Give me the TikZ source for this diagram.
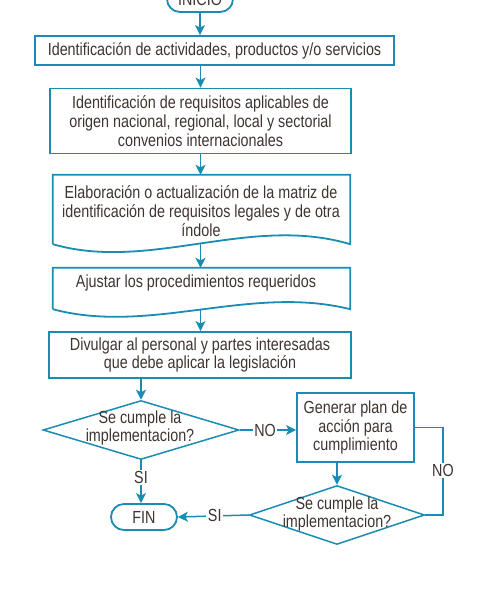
\documentclass[tikz,border=0pt]{standalone}
\usepackage{fontspec}
\setmainfont{Liberation Sans}[FakeStretch=0.82]
\usetikzlibrary{arrows.meta,shapes.geometric,calc}
\definecolor{fblue}{HTML}{1A8CB4}
\definecolor{ftext}{HTML}{3E3430}
\begin{document}
\begin{tikzpicture}[x=1pt,y=-1pt,
  every node/.style={text=ftext,font=\fontsize{17.5}{18.7}\selectfont},
  procbox/.style={draw=fblue,line width=1.8pt,align=center,inner sep=0pt},
  docbox/.style={align=center,inner sep=0pt},
  term/.style={draw=fblue,line width=1.8pt,rounded corners=13pt,minimum width=66pt,minimum height=26pt,inner sep=0pt},
  decbox/.style={draw=fblue,line width=1.5pt,shape=diamond,inner sep=0pt},
  lbl/.style={fill=white,inner sep=1.5pt},
  conn/.style={draw=fblue,line width=1.5pt},
  arr/.style={conn,-{Stealth[length=10pt,width=10pt,inset=2.5pt]}}
]
\useasboundingbox (0,0) rectangle (482,600);

\node[term] (inicio) at (200,-1) {INICIO};

\node[procbox,minimum width=359pt,minimum height=29pt] (b1) at (214.5,50.5)
  {Identificación de actividades, productos y/o servicios};

\node[procbox,minimum width=301pt,minimum height=65pt] (b2) at (200.5,121)
  {Identificación de requisitos aplicables de\\origen nacional, regional, local y sectorial\\convenios internacionales};

% document shape 3
\node[docbox,minimum width=297pt,minimum height=69pt] (b3) at (201.5,209.5) {};
\node[align=center,inner sep=0pt] (t3) at (201,211)
  {Elaboración o actualización de la matriz de\\identificación de requisitos legales y de otra\\índole};
\draw[draw=fblue,line width=1.8pt]
  (b3.south west) -- (b3.north west) -- (b3.north east) -- (b3.south east)
  .. controls ($(b3.south east)+(-100,-30)$) and ($(b3.south west)+(97,28)$) .. (b3.south west);

% document shape 4
\node[docbox,minimum width=297pt,minimum height=41pt] (b4) at (201.5,288.5) {};
\node[inner sep=0pt] (t4) at (196,283) {Ajustar los procedimientos requeridos};
\draw[draw=fblue,line width=1.8pt]
  (b4.south west) -- (b4.north west) -- (b4.north east) -- (b4.south east)
  .. controls ($(b4.south east)+(-100,-25)$) and ($(b4.south west)+(97,26)$) .. (b4.south west);

\node[procbox,minimum width=302pt,minimum height=46pt] (b5) at (200,355)
  {Divulgar al personal y partes interesadas\\que debe aplicar la legislación};

\node[decbox,minimum width=196pt,minimum height=59pt] (d1) at (141,430) {};
\node[align=center,inner sep=0pt] (t1) at (140,428) {Se cumple la\\implementacion?};

\node[procbox,minimum width=117pt,minimum height=69pt] (b6) at (355.5,427.5)
  {Generar plan de\\acción para\\cumplimiento};

\node[decbox,minimum width=175pt,minimum height=59pt] (d2) at (337,515) {};
\node[align=center,inner sep=0pt] (t2) at (337,514) {Se cumple la\\implementacion?};

\node[term] (fin) at (144,517) {FIN};

% connectors
\draw[arr] (inicio.south) -- (inicio.south |- b1.north);
\draw[arr] (b1.south -| b2.north) -- (b2.north);
\draw[arr] (b2.south) -- (b2.south |- b3.north);
\draw[arr] (b3.south -| b2.south) -- (b2.south |- b4.north);
\draw[arr] (b4.south -| b2.south) -- (b2.south |- b5.north);
\draw[arr] (b5.south -| d1.north) -- (d1.north);
\draw[arr] (d1.east) -- (d1.east -| b6.west) node[lbl,pos=0.45] {NO};
\draw[arr] (b6.south -| d2.north) -- (d2.north);
\coordinate (cr1) at (443,427.5);
\coordinate (cr2) at (443,515);
\draw[conn] (b6.east) -- (cr1) -- (cr2) node[lbl,pos=0.49] {NO} -- (d2.east);
\draw[arr] (d1.south) -- (d1.south |- fin.north) node[lbl,pos=0.4] {SI};
\draw[arr] (d2.west) -- (fin.east) node[lbl,pos=0.48] {SI};
\end{tikzpicture}
\end{document}
